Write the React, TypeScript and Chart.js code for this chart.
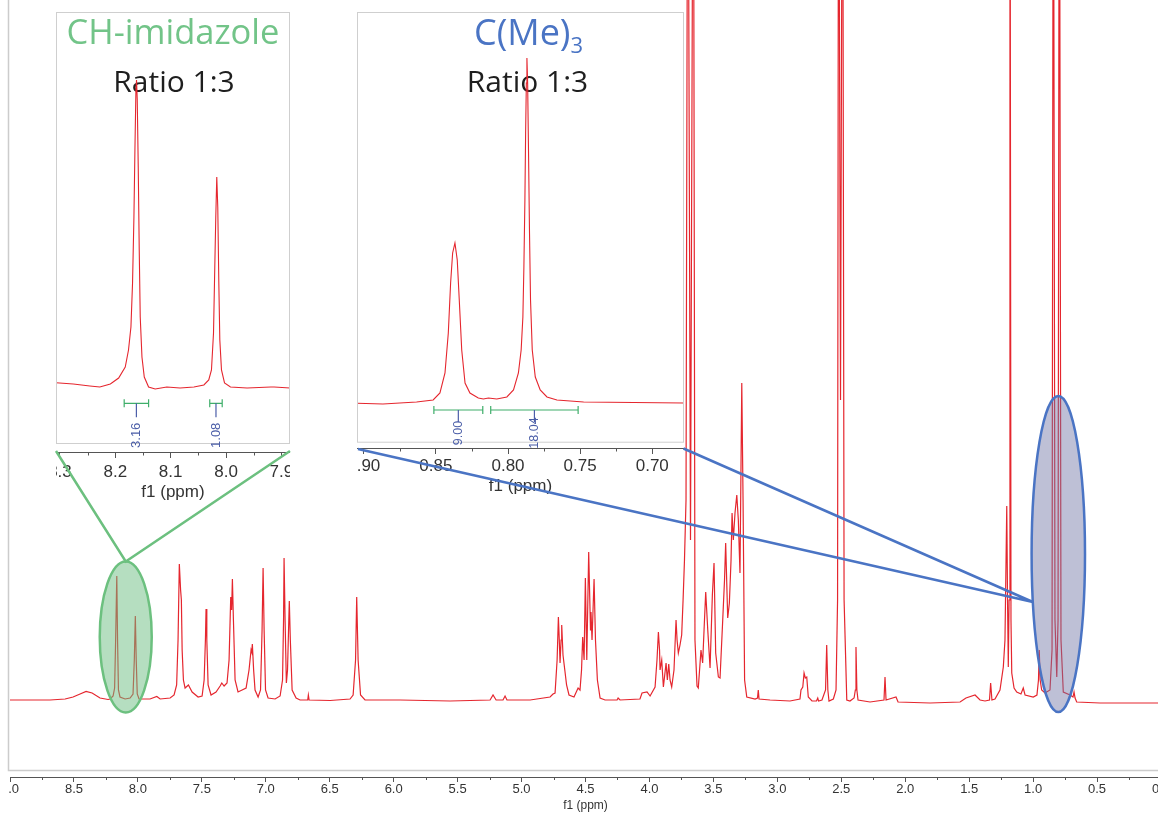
import React, { useEffect, useRef } from 'react';
import { Chart, registerables } from 'chart.js';

Chart.register(...registerables);

// ---------------- data (ppm, intensity) ----------------
const mainSpectrum: [number, number][] = [
  [9.000, 2], [8.843, 2], [8.687, 2], [8.569, 3], [8.507, 5], [8.452, 8], [8.405, 10.5], [8.358, 9], [8.296, 4], [8.233, 2.5],
  [8.217, 3], [8.194, 6], [8.182, 14], [8.174, 62], [8.165, 126], [8.159, 62], [8.152, 12], [8.140, 5], [8.100, 3], [8.061, 4],
  [8.038, 8], [8.028, 42], [8.020, 86], [8.013, 42], [8.005, 8], [7.991, 3], [7.905, 3], [7.852, 5.5], [7.826, 3], [7.748, 4],
  [7.717, 7], [7.697, 17], [7.686, 62], [7.676, 138], [7.666, 112], [7.660, 102], [7.654, 52], [7.644, 22], [7.631, 14], [7.605, 17],
  [7.576, 10], [7.529, 5], [7.498, 6], [7.482, 22], [7.472, 62], [7.467, 93], [7.461, 62], [7.451, 17], [7.428, 7], [7.389, 10],
  [7.357, 16], [7.344, 19], [7.326, 16], [7.303, 19], [7.287, 42], [7.274, 105], [7.267, 92], [7.261, 123], [7.253, 82], [7.240, 22],
  [7.217, 10], [7.185, 12], [7.154, 14], [7.131, 32], [7.115, 52], [7.110, 50], [7.105, 58], [7.095, 32], [7.084, 12], [7.060, 5],
  [7.041, 12], [7.029, 72], [7.021, 134], [7.013, 72], [7.002, 12], [6.982, 4], [6.927, 3], [6.888, 6], [6.869, 22], [6.861, 82],
  [6.857, 144], [6.849, 82], [6.839, 19], [6.830, 32], [6.822, 72], [6.816, 101], [6.808, 62], [6.794, 12], [6.763, 4], [6.732, 2],
  [6.672, 2], [6.667, 7], [6.661, 2], [6.497, 1.5], [6.341, 3], [6.317, 7], [6.298, 42], [6.289, 105], [6.278, 42], [6.259, 7],
  [6.224, 2], [5.950, 2], [5.559, 1], [5.246, 2], [5.223, 7], [5.199, 2], [5.145, 2], [5.129, 6], [5.114, 2], [4.933, 2],
  [4.777, 5], [4.754, 8], [4.738, 9], [4.722, 42], [4.712, 85], [4.705, 62], [4.699, 39], [4.691, 62], [4.686, 77], [4.676, 47],
  [4.660, 30], [4.648, 17], [4.629, 7], [4.590, 5], [4.558, 14], [4.543, 12], [4.531, 32], [4.522, 65], [4.511, 42], [4.501, 124],
  [4.490, 42], [4.475, 150], [4.461, 72], [4.457, 90], [4.449, 62], [4.433, 123], [4.422, 62], [4.407, 22], [4.386, 4], [4.347, 2],
  [4.253, 2], [4.245, 4], [4.230, 2], [4.074, 3], [4.058, 9], [4.019, 10], [3.995, 6], [3.956, 15], [3.941, 42], [3.930, 70],
  [3.921, 52], [3.917, 32], [3.904, 42], [3.891, 15], [3.870, 39], [3.860, 22], [3.849, 38], [3.839, 22], [3.826, 15], [3.808, 32],
  [3.792, 82], [3.784, 62], [3.774, 49], [3.761, 57], [3.748, 67], [3.737, 102], [3.726, 142], [3.714, 202], [3.700, 1000], [3.679, 162],
  [3.657, 1000], [3.644, 62], [3.628, 16], [3.618, 14], [3.597, 52], [3.584, 39], [3.573, 72], [3.560, 110], [3.544, 72], [3.526, 34],
  [3.508, 107], [3.495, 139], [3.482, 49], [3.461, 25], [3.448, 24], [3.427, 82], [3.413, 122], [3.404, 159], [3.388, 84], [3.375, 99],
  [3.362, 142], [3.354, 189], [3.344, 162], [3.331, 189], [3.317, 207], [3.305, 182], [3.292, 129], [3.278, 319], [3.268, 202], [3.256, 22],
  [3.239, 5], [3.174, 3], [3.155, 4], [3.149, 12], [3.143, 3], [3.057, 2], [2.901, 1], [2.823, 3], [2.815, 12], [2.801, 15],
  [2.791, 29], [2.781, 24], [2.770, 25], [2.758, 5], [2.729, 1], [2.694, 1], [2.684, 4], [2.678, 1], [2.651, 2], [2.623, 12],
  [2.614, 57], [2.605, 12], [2.596, 1], [2.562, 3], [2.541, 12], [2.529, 102], [2.521, 1000], [2.506, 302], [2.490, 1000], [2.478, 102],
  [2.457, 2], [2.432, 1], [2.400, 4], [2.390, 12], [2.385, 55], [2.378, 12], [2.369, 2], [2.275, 0], [2.166, 2], [2.158, 25],
  [2.150, 2], [2.072, 5], [2.056, 0], [1.806, -1], [1.571, 0], [1.525, 4], [1.454, 7], [1.415, 2], [1.376, 1], [1.341, 2],
  [1.332, 19], [1.322, 2], [1.298, 3], [1.259, 12], [1.233, 35], [1.220, 62], [1.206, 196], [1.200, 102], [1.194, 35], [1.188, 102],
  [1.181, 1000], [1.173, 82], [1.167, 29], [1.149, 14], [1.128, 10], [1.095, 8], [1.077, 14], [1.063, 7], [0.999, 5], [0.970, 7],
  [0.958, 22], [0.952, 52], [0.945, 22], [0.933, 12], [0.907, 9], [0.868, 12], [0.852, 52], [0.842, 1000], [0.829, 82], [0.815, 25],
  [0.805, 82], [0.795, 1000], [0.782, 62], [0.764, 10], [0.711, 7], [0.688, 5], [0.680, 10], [0.672, 4], [0.659, 0], [0.477, -1],
  [0.242, -1], [0.000, -1],
];

const imidazoleSpectrum: [number, number][] = [
  [8.3072, 1.3], [8.2760, 0], [8.2460, -2], [8.2280, -3], [8.2090, 0], [8.1940, 6], [8.1821, 17], [8.1762, 34], [8.1718, 57],
  [8.1689, 101], [8.1664, 167], [8.1646, 234], [8.1628, 294], [8.1617, 304], [8.1604, 284], [8.1586, 217], [8.1568, 134],
  [8.1550, 67], [8.1519, 27], [8.1477, 7], [8.1399, -3], [8.1280, -5], [8.1070, -3], [8.0830, -4], [8.0580, -3], [8.0400, -1],
  [8.0312, 4], [8.0263, 14], [8.0226, 51], [8.0203, 117], [8.0185, 167], [8.0167, 207], [8.0149, 177], [8.0130, 101],
  [8.0112, 44], [8.0082, 14], [8.0027, 1], [7.9920, -3], [7.9620, -4], [7.9190, -3], [7.9130, -3], [7.8844, -4],
];

const cMe3Spectrum: [number, number][] = [
  [0.9047, 0.7], [0.8867, 0], [0.8634, 2], [0.8519, 4], [0.8472, 11], [0.8437, 31], [0.8414, 71], [0.8398, 121], [0.8384, 151],
  [0.8368, 161], [0.8352, 144], [0.8338, 104], [0.8321, 54], [0.8298, 21], [0.8264, 11], [0.8241, 9], [0.8206, 6], [0.8171, 5],
  [0.8136, 6], [0.8078, 5], [0.8008, 7], [0.7962, 14], [0.7928, 31], [0.7909, 54], [0.7897, 87], [0.7890, 137], [0.7883, 204],
  [0.7878, 271], [0.7873, 321], [0.7869, 346], [0.7864, 321], [0.7858, 254], [0.7851, 171], [0.7844, 104], [0.7832, 54],
  [0.7811, 27], [0.7777, 14], [0.7730, 7], [0.7661, 4], [0.7476, 2], [0.6780, 1],
];

const imidazoleIntegralFrom = [8.184, 8.0294];
const imidazoleIntegralTo = [8.1399, 8.0069];
const imidazoleIntegralValue = ['3.16', '1.08'];

const cMe3IntegralFrom = [0.8514, 0.8120];
const cMe3IntegralTo = [0.8175, 0.7514];
const cMe3IntegralValue = ['9.00', '18.04'];

// ---------------- styles ----------------
const RED = '#e5262e';
const AXIS = '#555555';
const LABEL = '#333333';
const TICK_FONT = '"Liberation Sans", Arial, sans-serif';
const TEXT_FONT = '"Open Sans", "Noto Sans", sans-serif';
const GREEN = '#6cc07f';
const BLUE = '#4a74c4';
const INT_GREEN = '#3fae6a';
const INT_BLUE = '#4b5ea8';

const OFF = 30; // canvas offset outside its clip box

const INSET1 = { left: 56, width: 234, height: 505, axisH: 53, frameBottom: 443, yMin: -68, yMax: 372 };
const INSET2 = { left: 357, width: 327, height: 500, axisH: 52, frameBottom: 441.7, yMin: -44, yMax: 392 };

const greenEllipse = { ppm: 8.095, intensity: 65, rx: 26, ry: 75.5 };
const blueEllipse = { ppm: 0.803, intensity: 148, rx: 26.7, ry: 158 };

const toXY = (arr: [number, number][]) => arr.map(([x, y]) => ({ x, y }));

function drawMinorTicks(ctx: CanvasRenderingContext2D, xs: any, y: number, start: number, step: number, end: number, len: number) {
  ctx.strokeStyle = AXIS;
  ctx.lineWidth = 1;
  ctx.beginPath();
  for (let v = start; v <= end + 1e-9; v += step) {
    if (v < xs.min || v > xs.max) continue;
    const px = Math.round(xs.getPixelForValue(v)) + 0.5;
    ctx.moveTo(px, y);
    ctx.lineTo(px, y + len);
  }
  ctx.stroke();
}

function insetPlugin(cfg: any) {
  return {
    id: 'insetDecor',
    beforeDatasetsDraw(chart: any) {
      const ctx = chart.ctx as CanvasRenderingContext2D;
      ctx.save();
      cfg.drawTitles(ctx);
      ctx.restore();
    },
    afterDraw(chart: any) {
      const ctx = chart.ctx as CanvasRenderingContext2D;
      const { chartArea, scales } = chart;
      const xs = scales.x, ys = scales.y;
      ctx.save();
      // frame
      ctx.strokeStyle = '#cfcfcf';
      ctx.lineWidth = 1;
      ctx.strokeRect(chartArea.left + 0.5, chartArea.top + 0.5, chartArea.right - chartArea.left - 1, cfg.frameBottom - chartArea.top);
      // minor ticks
      drawMinorTicks(ctx, xs, chartArea.bottom, cfg.minorStart, cfg.minorStep, cfg.minorEnd, 3.5);
      // integrals
      ctx.beginPath();
      ctx.rect(chartArea.left, chartArea.top, chartArea.right - chartArea.left, chartArea.bottom - chartArea.top);
      ctx.clip();
      const yb = ys.getPixelForValue(cfg.intLevel);
      for (let i = 0; i < cfg.from.length; i++) {
        const x1 = xs.getPixelForValue(cfg.from[i]);
        const x2 = xs.getPixelForValue(cfg.to[i]);
        const xc = (x1 + x2) / 2;
        ctx.strokeStyle = INT_GREEN;
        ctx.lineWidth = 1.2;
        ctx.beginPath();
        ctx.moveTo(x1, yb); ctx.lineTo(x2, yb);
        ctx.moveTo(x1, yb - 4); ctx.lineTo(x1, yb + 4);
        ctx.moveTo(x2, yb - 4); ctx.lineTo(x2, yb + 4);
        ctx.stroke();
        ctx.strokeStyle = INT_BLUE;
        ctx.beginPath();
        ctx.moveTo(xc, yb); ctx.lineTo(xc, yb + cfg.stem);
        ctx.stroke();
        ctx.save();
        ctx.translate(xc, yb + cfg.labelCenter);
        ctx.rotate(-Math.PI / 2);
        ctx.fillStyle = INT_BLUE;
        ctx.font = `${cfg.labelSize}px ${TICK_FONT}`;
        ctx.textAlign = 'center';
        ctx.textBaseline = 'middle';
        ctx.fillText(cfg.values[i], 0, 0);
        ctx.restore();
      }
      ctx.restore();
    },
  };
}

function insetOptions(box: any, min: number, max: number, step: number, decimals: number, tickPad: number, titlePad: number) {
  return {
    animation: false,
    responsive: false,
    maintainAspectRatio: false,
    devicePixelRatio: 1,
    events: [],
    layout: { padding: { left: OFF, right: OFF, top: 12, bottom: 0 } },
    plugins: { legend: { display: false }, tooltip: { enabled: false } },
    scales: {
      x: {
        type: 'linear',
        reverse: true,
        min,
        max,
        afterFit: (s: any) => { s.height = box.axisH; },
        border: { color: AXIS, width: 1 },
        grid: { drawOnChartArea: false, drawTicks: true, tickLength: 6, tickColor: AXIS },
        ticks: {
          stepSize: step, includeBounds: false, autoSkip: false, maxRotation: 0, minRotation: 0,
          padding: tickPad, color: LABEL, font: { family: TICK_FONT, size: 17 },
          callback: (v: any) => Number(v).toFixed(decimals),
        },
        title: { display: true, text: 'f1 (ppm)', color: LABEL, font: { family: TICK_FONT, size: 17 }, padding: { top: 0, bottom: titlePad } },
      },
      y: { display: false, min: box.yMin, max: box.yMax },
    },
  };
}

export default function App() {
  const mainRef = useRef<HTMLCanvasElement | null>(null);
  const in1Ref = useRef<HTMLCanvasElement | null>(null);
  const in2Ref = useRef<HTMLCanvasElement | null>(null);

  useEffect(() => {
    const charts: Chart[] = [];

    // ---- inset 1: CH-imidazole ----
    const in1Left = INSET1.left - OFF;
    charts.push(new Chart(in1Ref.current as HTMLCanvasElement, {
      type: 'line',
      data: { datasets: [{ data: toXY(imidazoleSpectrum), borderColor: RED, borderWidth: 1.1, pointRadius: 0, tension: 0, fill: false }] },
      options: insetOptions(INSET1, 7.8844, 8.3072, 0.1, 1, 4, 2) as any,
      plugins: [insetPlugin({
        frameBottom: INSET1.frameBottom,
        minorStart: 7.85, minorStep: 0.1, minorEnd: 8.35,
        intLevel: -19.3, stem: 14, labelCenter: 32, labelSize: 13,
        from: imidazoleIntegralFrom, to: imidazoleIntegralTo, values: imidazoleIntegralValue,
        drawTitles: (ctx: CanvasRenderingContext2D) => {
          ctx.textAlign = 'center';
          ctx.textBaseline = 'alphabetic';
          ctx.fillStyle = '#72c488';
          ctx.font = `34.5px ${TEXT_FONT}`;
          ctx.fillText('CH-imidazole', 173 - in1Left, 44);
          ctx.fillStyle = '#1e1e1e';
          ctx.font = `30px ${TEXT_FONT}`;
          ctx.fillText('Ratio 1:3', 174 - in1Left, 92);
        },
      })],
    } as any));

    // ---- inset 2: C(Me)3 ----
    const in2Left = INSET2.left - OFF;
    charts.push(new Chart(in2Ref.current as HTMLCanvasElement, {
      type: 'line',
      data: { datasets: [{ data: toXY(cMe3Spectrum), borderColor: RED, borderWidth: 1.1, pointRadius: 0, tension: 0, fill: false }] },
      options: insetOptions(INSET2, 0.678, 0.9047, 0.05, 2, 2.5, 3) as any,
      plugins: [insetPlugin({
        frameBottom: INSET2.frameBottom,
        minorStart: 0.675, minorStep: 0.05, minorEnd: 0.925,
        intLevel: -6, stem: 12, labelCenter: 23, labelSize: 12.5,
        from: cMe3IntegralFrom, to: cMe3IntegralTo, values: cMe3IntegralValue,
        drawTitles: (ctx: CanvasRenderingContext2D) => {
          ctx.textBaseline = 'alphabetic';
          ctx.fillStyle = BLUE;
          ctx.font = `36px ${TEXT_FONT}`;
          const w1 = ctx.measureText('C(Me)').width;
          ctx.font = `22px ${TEXT_FONT}`;
          const w2 = ctx.measureText('3').width;
          const sx = 528.5 - in2Left - (w1 + w2) / 2;
          ctx.textAlign = 'left';
          ctx.font = `36px ${TEXT_FONT}`;
          ctx.fillText('C(Me)', sx, 45);
          ctx.font = `22px ${TEXT_FONT}`;
          ctx.fillText('3', sx + w1, 53);
          ctx.textAlign = 'center';
          ctx.fillStyle = '#1e1e1e';
          ctx.font = `30px ${TEXT_FONT}`;
          ctx.fillText('Ratio 1:3', 527.5 - in2Left, 92);
        },
      })],
    } as any));

    // ---- main spectrum ----
    const mainDecor = {
      id: 'mainDecor',
      afterDraw(chart: any) {
        const ctx = chart.ctx as CanvasRenderingContext2D;
        const { chartArea, scales } = chart;
        const xs = scales.x, ys = scales.y;
        ctx.save();
        // crop mask on the far left
        ctx.fillStyle = '#ffffff';
        ctx.fillRect(0, 0, OFF + 8, chart.height);
        // plot frame
        ctx.strokeStyle = '#cccccc';
        ctx.lineWidth = 1.5;
        ctx.beginPath();
        ctx.moveTo(OFF + 8.5, 0);
        ctx.lineTo(OFF + 8.5, 770.5);
        ctx.lineTo(chart.width, 770.5);
        ctx.stroke();
        // minor ticks
        drawMinorTicks(ctx, xs, chartArea.bottom, 0.25, 0.5, 9, 3);

        // ellipses
        const drawEllipse = (e: any, fill: string, stroke: string) => {
          const cx = xs.getPixelForValue(e.ppm);
          const cy = ys.getPixelForValue(e.intensity);
          ctx.beginPath();
          ctx.ellipse(cx, cy, e.rx, e.ry, 0, 0, Math.PI * 2);
          ctx.fillStyle = fill;
          ctx.fill();
          ctx.lineWidth = 2.5;
          ctx.strokeStyle = stroke;
          ctx.stroke();
          return { cx, cy };
        };
        const g = drawEllipse(greenEllipse, 'rgba(108,190,130,0.5)', GREEN);
        const b = drawEllipse(blueEllipse, 'rgba(110,115,165,0.45)', BLUE);

        // connectors (page coords -> canvas coords: +OFF)
        ctx.lineWidth = 2.5;
        ctx.strokeStyle = GREEN;
        const gTopY = g.cy - greenEllipse.ry;
        ctx.beginPath();
        ctx.moveTo(INSET1.left + OFF, 451);
        ctx.lineTo(g.cx, gTopY);
        ctx.lineTo(INSET1.left + INSET1.width + OFF, 451);
        ctx.stroke();

        const dy = 48;
        const bx = b.cx - blueEllipse.rx * Math.sqrt(1 - (dy / blueEllipse.ry) ** 2);
        const by = b.cy + dy;
        ctx.strokeStyle = BLUE;
        ctx.beginPath();
        ctx.moveTo(INSET2.left + 1 + OFF, 449);
        ctx.lineTo(bx, by);
        ctx.moveTo(INSET2.left + INSET2.width + OFF - 0.5, 448.5);
        ctx.lineTo(bx, by);
        ctx.stroke();
        ctx.restore();
      },
    };

    charts.push(new Chart(mainRef.current as HTMLCanvasElement, {
      type: 'line',
      data: { datasets: [{ data: toXY(mainSpectrum), borderColor: RED, borderWidth: 1.2, pointRadius: 0, tension: 0, fill: false }] },
      options: {
        animation: false,
        responsive: false,
        maintainAspectRatio: false,
        devicePixelRatio: 1,
        events: [],
        layout: { padding: { left: OFF + 10, right: 27, top: 0, bottom: 0 } },
        plugins: { legend: { display: false }, tooltip: { enabled: false } },
        scales: {
          x: {
            type: 'linear',
            reverse: true,
            min: 0,
            max: 9,
            afterFit: (s: any) => { s.height = 37; },
            border: { color: AXIS, width: 1 },
            grid: { drawOnChartArea: false, drawTicks: true, tickLength: 5, tickColor: AXIS },
            ticks: {
              stepSize: 0.5, includeBounds: false, autoSkip: false, maxRotation: 0, minRotation: 0,
              padding: 0, color: LABEL, font: { family: TICK_FONT, size: 13 },
              callback: (v: any) => Number(v).toFixed(1),
            },
            title: { display: true, text: 'f1 (ppm)', color: LABEL, font: { family: TICK_FONT, size: 12 }, padding: { top: 0, bottom: 1 } },
          },
          y: { display: false, min: -75, max: 702 },
        },
      } as any,
      plugins: [mainDecor],
    } as any));

    return () => { charts.forEach((c) => c.destroy()); };
  }, []);

  return (
    <div style={{ position: 'absolute', left: 0, top: 0, width: 1158, height: 814, overflow: 'hidden', background: '#ffffff' }}>
      <div style={{ position: 'absolute', left: INSET1.left, top: 0, width: INSET1.width, height: INSET1.height, overflow: 'hidden' }}>
        <canvas ref={in1Ref} width={INSET1.width + 2 * OFF} height={INSET1.height}
          style={{ position: 'absolute', left: -OFF, top: 0, width: INSET1.width + 2 * OFF, height: INSET1.height }} />
      </div>
      <div style={{ position: 'absolute', left: INSET2.left, top: 0, width: INSET2.width, height: INSET2.height, overflow: 'hidden' }}>
        <canvas ref={in2Ref} width={INSET2.width + 2 * OFF} height={INSET2.height}
          style={{ position: 'absolute', left: -OFF, top: 0, width: INSET2.width + 2 * OFF, height: INSET2.height }} />
      </div>
      <canvas ref={mainRef} width={1158 + 2 * OFF} height={814}
        style={{ position: 'absolute', left: -OFF, top: 0, width: 1158 + 2 * OFF, height: 814 }} />
    </div>
  );
}
